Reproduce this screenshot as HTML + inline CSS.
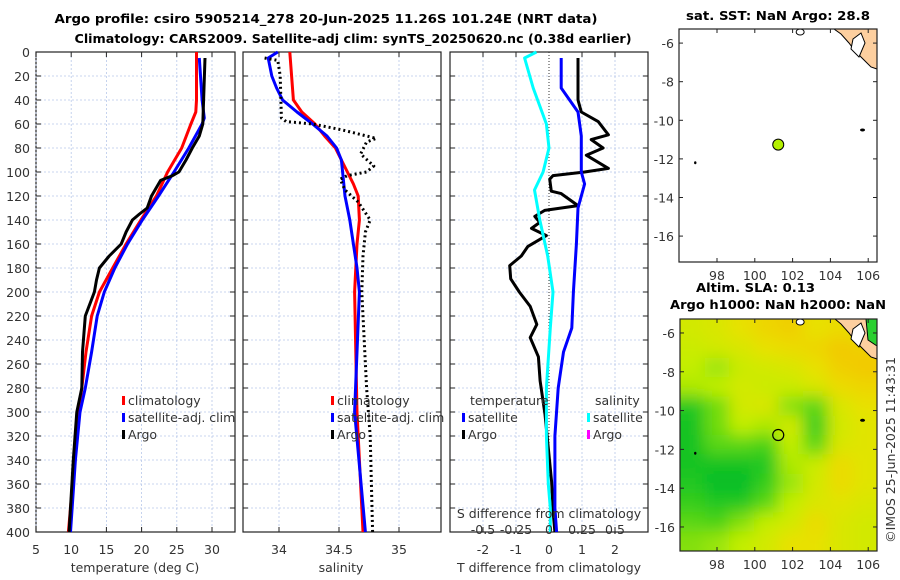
<!DOCTYPE html>
<html><head><meta charset="utf-8"><style>
body{margin:0;background:#fff;}
svg{display:block;font-family:"DejaVu Sans","Liberation Sans",sans-serif;}
.t{font-size:12.5px;fill:#333;}
.b{font-size:12.5px;font-weight:bold;fill:#000;}
</style></head><body>
<svg id="c" width="900" height="580" viewBox="0 0 900 580">
<defs><filter id="bl" x="-0.1" y="-0.1" width="1.2" height="1.2"><feGaussianBlur stdDeviation="8"/></filter>
<clipPath id="m2clip"><rect x="680" y="319" width="197" height="232"/></clipPath></defs>
<text class="b" x="326" y="23" text-anchor="middle" textLength="543" lengthAdjust="spacingAndGlyphs">Argo profile: csiro 5905214_278 20-Jun-2025 11.26S 101.24E (NRT data)</text>
<text class="b" x="353" y="43" text-anchor="middle" textLength="557" lengthAdjust="spacingAndGlyphs">Climatology: CARS2009. Satellite-adj clim: synTS_20250620.nc (0.38d earlier)</text>
<g id="g"></g>
</svg>
<script>
// ---- Temperature panel data ----
const tRedDepth=[0,40,50,60,80,100,120,140,160,180,200,220,250,280,300,340,400];
const tRedVal=[27.8,27.8,27.7,27.0,25.7,23.7,22.1,19.9,17.8,15.9,14.0,12.9,12.1,11.5,11.1,10.5,9.6];
const tBlueDepth=[5,40,55,60,80,100,120,140,160,180,200,220,250,280,300,340,400];
const tBlueVal=[28.2,28.6,28.9,28.6,26.7,24.6,22.4,20.1,18.0,16.2,14.7,13.7,12.9,12.0,11.25,10.6,9.9];
const tArgoDepth=[5,60,70,80,90,100,103,107,120,130,135,140,150,160,170,180,190,200,220,250,280,300,340,400];
const tArgoVal=[29.0,28.7,28.2,27.2,26.3,25.3,24.4,22.7,21.4,20.8,19.7,18.7,17.8,17.1,15.4,14.0,13.6,13.3,12.0,11.6,11.5,10.8,10.3,9.7];
// ---- Salinity panel data ----
const sRedDepth=[0,40,50,60,70,80,90,100,110,120,140,160,200,300,400];
const sRedVal=[34.09,34.12,34.19,34.30,34.38,34.47,34.52,34.57,34.62,34.66,34.67,34.65,34.63,34.65,34.70];
const sBlueDepth=[0,5,20,30,40,50,60,70,80,90,100,120,140,160,180,200,300,400];
const sBlueVal=[33.99,33.91,33.94,33.98,34.03,34.15,34.28,34.40,34.48,34.52,34.53,34.55,34.59,34.62,34.65,34.67,34.63,34.72];
const sArgoDepth=[5,7,20,55,58,60,65,70,72,75,85,95,100,103,106,115,125,140,150,170,200,280,320,400];
const sArgoVal=[33.88,33.99,34.01,34.02,34.06,34.28,34.53,34.73,34.81,34.73,34.68,34.79,34.73,34.57,34.51,34.55,34.66,34.76,34.72,34.70,34.69,34.73,34.76,34.78];
// ---- Difference panel data ----
const dTArgoDepth=[5,40,50,58,69,73,80,86,97,100,103,106,116,118,128,132,137,142,147,153,162,170,178,189,200,212,227,238,254,274,302,330,358,385,400];
const dTArgoVal=[0.88,0.88,0.98,1.49,1.8,1.28,1.64,1.13,1.8,1.08,0.12,0.02,0.07,0.37,0.88,-0.13,-0.43,-0.28,-0.53,-0.08,-0.64,-0.84,-1.19,-1.16,-0.9,-0.57,-0.37,-0.57,-0.32,-0.27,-0.12,-0.02,0.08,0.13,0.18];
const dTSatDepth=[5,30,50,70,100,110,130,160,200,230,250,280,320,380,400];
const dTSatVal=[0.37,0.37,0.88,0.98,0.98,1.08,0.88,0.83,0.74,0.69,0.44,0.28,0.18,0.18,0.23];
const dSSatDepth=[0,5,30,60,80,100,115,140,170,200,230,280,320,360,380,400];
const dSSatVal=[-0.095,-0.185,-0.12,-0.02,0,-0.045,-0.11,-0.07,-0.01,0.03,0.01,-0.02,-0.02,-0.005,0.01,0.01];
// ---- tick labels ----
const depthTicks=[0,20,40,60,80,100,120,140,160,180,200,220,240,260,280,300,320,340,360,380,400];
const tTicks=[5,10,15,20,25,30];
const sTicks=[34,34.5,35];
const dTTicks=[-2,-1,0,1,2];
const dSTicks=[-0.5,-0.25,0,0.25,0.5];
const lonTicks=[98,100,102,104,106];
const latTicks=[-6,-8,-10,-12,-14,-16];
// ---- SLA grid (rows north->south, 1 deg each from -5.3; cols west->east) ----
const slaGrid=[
[1.2,1.3,1.5,1.7,1.8,1.5,1.6,1.3],
[1.1,1.2,1.3,1.5,1.6,1.7,1.9,1.8],
[1.0,0.8,1.1,1.2,1.3,1.5,1.8,1.9],
[0.9,1.0,1.2,1.1,1.1,1.3,1.6,1.7],
[0.2,0.6,1.2,1.3,0.7,0.5,1.3,1.5],
[0.1,0.6,1.0,0.9,1.2,0.3,1.2,1.4],
[0.1,0.5,0.5,0.4,1.0,0.5,1.3,1.4],
[0.1,0.1,0.1,0.2,0.9,1.1,1.6,1.4],
[0.2,0.0,0.0,0.3,0.8,1.2,1.6,1.4],
[0.3,0.2,0.2,0.5,1.0,1.3,1.4,1.3],
[0.5,0.4,0.7,1.0,1.2,1.6,1.3,1.2],
[0.7,0.8,1.0,1.2,1.5,1.5,1.3,1.2]];
const argoLon=101.24, argoLat=-11.26;

const NS='http://www.w3.org/2000/svg';
const G=document.getElementById('g');
function mk(tag,attrs,parent){const e=document.createElementNS(NS,tag);for(const k in attrs)e.setAttribute(k,attrs[k]);(parent||G).appendChild(e);return e;}
function txt(x,y,s,cls,anchor){const e=mk('text',{x:x,y:y,class:cls||'t','text-anchor':anchor||'middle'});e.textContent=s;return e;}
const Y0=52,Y1=532;
const yD=d=>Y0+(d/400)*(Y1-Y0);
function panel(x0,x1,name){
  const r=mk('rect',{x:x0,y:Y0,width:x1-x0,height:Y1-Y0,fill:'none',stroke:'#222','stroke-width':1.2});
  
  
  depthTicks.forEach(d=>{const y=yD(d);
    if(d>0&&d<400){const l=mk('line',{x1:x0,x2:x1,y1:y,y2:y,stroke:'#b8c8ea','stroke-width':0.8,'stroke-dasharray':'2,2'});
      
      }
    mk('line',{x1:x0,x2:x0+5,y1:y,y2:y,stroke:'#222'});mk('line',{x1:x1-5,x2:x1,y1:y,y2:y,stroke:'#222'});});
}
function vgrid(x){const l=mk('line',{x1:x,x2:x,y1:Y0,y2:Y1,stroke:'#b8c8ea','stroke-width':0.8,'stroke-dasharray':'2,2'});
  
  
  mk('line',{x1:x,x2:x,y1:Y1-5,y2:Y1,stroke:'#222'});mk('line',{x1:x,x2:x,y1:Y0,y2:Y0+5,stroke:'#222'});}
function line(depths,vals,fx,color,name,w,dash){
  const pts=depths.map((d,i)=>fx(vals[i]).toFixed(1)+','+yD(d).toFixed(1)).join(' ');
  const p=mk('polyline',{points:pts,fill:'none',stroke:color,'stroke-width':w||3,'stroke-linejoin':'round'});
  if(dash)p.setAttribute('stroke-dasharray',dash);
  
  
}
// Panel 1
const xT=v=>36+(v-5)*7.04;
panel(36,235,'temperature-panel');
tTicks.forEach(v=>{vgrid(xT(v));const t=txt(xT(v),554,String(v));});
depthTicks.forEach(d=>{const t=txt(30,yD(d)+5,String(d),'t','end');});
{const t=txt(135,572,'temperature (deg C)');}
line(tRedDepth,tRedVal,xT,'#ff0000','temp-climatology-line');
line(tBlueDepth,tBlueVal,xT,'#0000ff','temp-satellite-line');
line(tArgoDepth,tArgoVal,xT,'#000000','temp-argo-line');
function legend(x,y,items,name){
  const g=mk('g',{});
  
  
  items.forEach((it,i)=>{const yy=y+i*17;mk('rect',{x:x,y:yy-9,width:3,height:9,fill:it[1]},g);
    const t=mk('text',{x:x+6,y:yy,class:'t'},g);t.textContent=it[0];});
}
legend(122,405,[['climatology','#ff0000'],['satellite-adj. clim','#0000ff'],['Argo','#000']],'temperature-legend');
// Panel 2
const xS=v=>279+(v-34)*120;
panel(243,441,'salinity-panel');
sTicks.forEach(v=>{vgrid(xS(v));const t=txt(xS(v),554,String(v));});
{const t=txt(341,572,'salinity');}
line(sRedDepth,sRedVal,xS,'#ff0000','sal-climatology-line');
line(sBlueDepth,sBlueVal,xS,'#0000ff','sal-satellite-line');
line(sArgoDepth,sArgoVal,xS,'#000000','sal-argo-line',3,'2,3');
legend(331,405,[['climatology','#ff0000'],['satellite-adj. clim','#0000ff'],['Argo','#000']],'salinity-legend');
// Panel 3
const xD=v=>549+v*33;
const xDS=v=>549+v*132;
panel(450,648,'difference-panel');
dTTicks.forEach(v=>{if(v!==0)vgrid(xD(v));const t=txt(xD(v),554,String(v));});
mk('line',{x1:xD(0),x2:xD(0),y1:Y0,y2:Y1,stroke:'#333','stroke-width':1,'stroke-dasharray':'1,2'});
{const t=txt(549,572,'T difference from climatology');}
line(dTArgoDepth,dTArgoVal,xD,'#000000','tdiff-argo-line');
line(dTSatDepth,dTSatVal,xD,'#0000ff','tdiff-satellite-line');
line(dSSatDepth,dSSatVal,xDS,'#00ffff','sdiff-satellite-line');
{const t=txt(549,518,'S difference from climatology');}
dSTicks.forEach(v=>{const t=txt(xDS(v),534,String(v));});
txt(470,405,'temperature','t','start');
txt(595,405,'salinity','t','start');
legend(462,422,[['satellite','#0000ff'],['Argo','#000']],'tdiff-legend');
legend(587,422,[['satellite','#00ffff'],['Argo','#ff00ff']],'sdiff-legend');
// Maps
function mapFrame(x0,y0,latTop,pxDeg){
  return {lonX:l=>717+(l-98)*18.9, latY:l=>y0+(latTop-l)*pxDeg};
}
function mapAxes(x0,y0,x1,y1,m,name){
  const r=mk('rect',{x:x0,y:y0,width:x1-x0,height:y1-y0,fill:'none',stroke:'#222','stroke-width':1.2});
  
  
  lonTicks.forEach(l=>{const x=m.lonX(l);mk('line',{x1:x,x2:x,y1:y1,y2:y1-4,stroke:'#222'});mk('line',{x1:x,x2:x,y1:y0,y2:y0+4,stroke:'#222'});
    const t=txt(x,y1+18,String(l));});
  latTicks.forEach(l=>{const y=m.latY(l);mk('line',{x1:x0,x2:x0+4,y1:y,y2:y,stroke:'#222'});mk('line',{x1:x1,x2:x1-4,y1:y,y2:y,stroke:'#222'});
    const t=txt(x0-5,y+5,String(l),'t','end');});
}
function land(x0,y0,x1,m){
  mk('polygon',{points:`${x0+155},${y0} ${x1},${y0} ${x1},${y0+40} ${x1-6},${y0+38} ${x1-14},${y0+30} ${x1-22},${y0+22} ${x1-28},${y0+14} ${x1-36},${y0+5}`,fill:'#fdcf9f',stroke:'#000','stroke-width':1});
  mk('polygon',{points:`${x1-24},${y0+10} ${x1-16},${y0+4} ${x1-12},${y0+14} ${x1-18},${y0+28} ${x1-26},${y0+20}`,fill:'#fff',stroke:'#000','stroke-width':1});
  mk('ellipse',{cx:m.lonX(102.4),cy:y0+3,rx:4,ry:3,fill:'#fff',stroke:'#000'});
  mk('ellipse',{cx:m.lonX(105.7),cy:m.latY(-10.5),rx:2.5,ry:1.5,fill:'#000'});
  mk('ellipse',{cx:m.lonX(96.85),cy:m.latY(-12.2),rx:1.2,ry:1.5,fill:'#000'});
}
// map 1
const m1=mapFrame(679,29,-5.27,19.3);
mk('rect',{x:679,y:29,width:198,height:233,fill:'#fff'});
land(679,29,877,m1);
{const c=mk('circle',{cx:m1.lonX(argoLon),cy:m1.latY(argoLat),r:5.5,fill:'#b4f000',stroke:'#000','stroke-width':1});
}
mapAxes(679,29,877,262,m1,'sst-map');
{const t=mk('text',{x:686,y:20,class:'b',textLength:184,lengthAdjust:'spacingAndGlyphs'});t.textContent='sat. SST: NaN Argo: 28.8';}
// map 2
const m2=mapFrame(680,319,-5.28,19.4);
function slaColor(v){const stops=[[0,[0,190,40]],[0.5,[90,215,20]],[1,[195,238,0]],[1.5,[232,225,0]],[2,[245,195,0]]];
  v=Math.max(0,Math.min(2,v));
  for(let k=0;k<stops.length-1;k++){const [a,ca]=stops[k],[b,cb]=stops[k+1];
    if(v<=b){const t=(v-a)/(b-a);return 'rgb('+ca.map((x,i)=>Math.round(x+(cb[i]-x)*t)).join(',')+')';}}
}
const hm=mk('g',{'clip-path':'url(#m2clip)'});
const hg=mk('g',{filter:'url(#bl)'},hm);
const nR=slaGrid.length,nC=slaGrid[0].length,cw=197/nC,ch=232/nR;
slaGrid.forEach((row,i)=>row.forEach((v,j)=>{
  let x=680+j*cw,y=319+i*ch,w=cw+1,h=ch+1;
  if(j===0){x-=25;w+=25;} if(j===nC-1){w+=25;}
  if(i===0){y-=25;h+=25;} if(i===nR-1){h+=25;}
  const r=mk('rect',{x:x.toFixed(1),y:y.toFixed(1),width:w.toFixed(1),height:h.toFixed(1),fill:slaColor(v)},hg);
  
  }));
land(680,319,877,m2);
mk('polygon',{points:'866,319 877,319 877,346 868,340',fill:'#2ad030',stroke:'#000','stroke-width':1});
{const c=mk('circle',{cx:m2.lonX(argoLon),cy:m2.latY(argoLat),r:5.5,fill:'none',stroke:'#000','stroke-width':1.2});
}
mapAxes(680,319,877,551,m2,'sla-map');
{const t=mk('text',{x:696,y:292,class:'b',textLength:119,lengthAdjust:'spacingAndGlyphs'});t.textContent='Altim. SLA: 0.13';}
{const t=mk('text',{x:670,y:309,class:'b',textLength:216,lengthAdjust:'spacingAndGlyphs'});t.textContent='Argo h1000: NaN h2000: NaN';}
{const t=txt(0,0,'©IMOS 25-Jun-2025 11:43:31');t.setAttribute('transform','translate(895,450) rotate(-90)');}
</script>
</body></html>
